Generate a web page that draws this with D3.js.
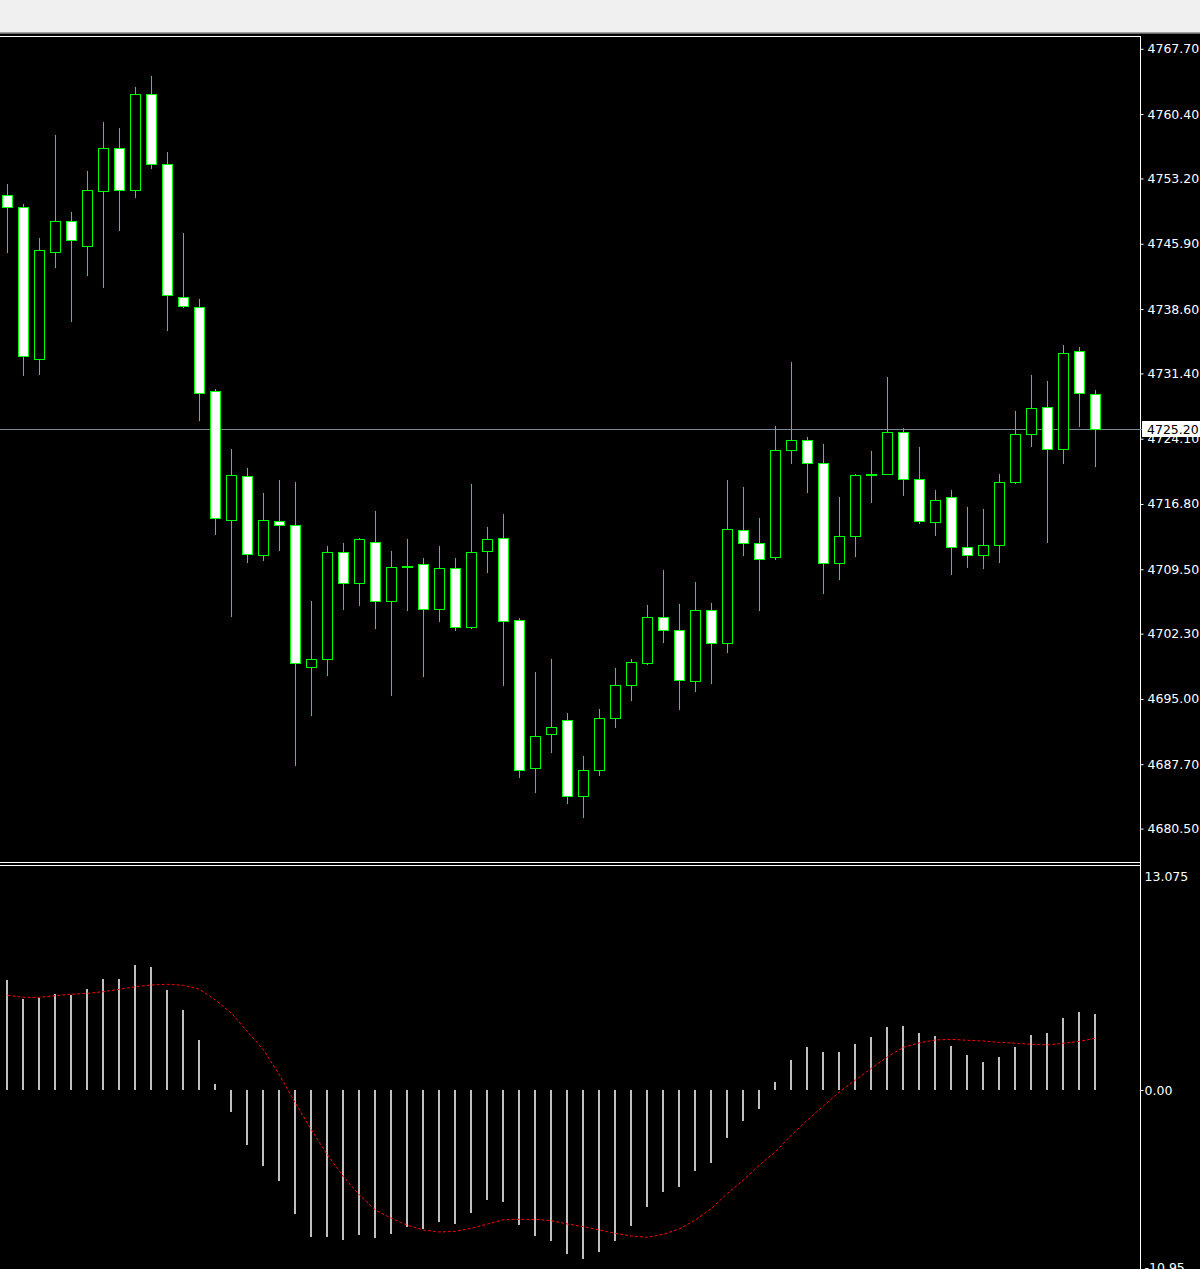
<!DOCTYPE html>
<html>
<head>
<meta charset="utf-8">
<title>Candles with MACD</title>
<script src="https://cdn.jsdelivr.net/npm/d3@7"></script>
<style>
  html, body { margin: 0; padding: 0; background: #000; }
  svg { display: block; }
</style>
</head>
<body>
<svg id="chart" width="1200" height="1269"></svg>
<script>
// OHLC, one entry per bar, oldest first
const opens = [
    4751.4, 4750.0, 4733.0, 4745.0, 4748.4, 4745.7, 4751.8, 4756.6, 4751.9, 4762.7,
    4754.8, 4740.0, 4738.8, 4729.4, 4715.0, 4719.9, 4711.1, 4714.9, 4714.5, 4698.6,
    4699.5, 4711.4, 4708.0, 4712.6, 4705.9, 4709.9, 4710.1, 4705.1, 4709.6, 4703.0,
    4711.5, 4713.0, 4703.8, 4687.3, 4691.1, 4692.6, 4684.2, 4687.1, 4692.9, 4696.6,
    4699.0, 4704.2, 4702.7, 4697.0, 4705.0, 4701.2, 4713.9, 4712.4, 4710.9, 4722.8,
    4723.9, 4721.4, 4710.2, 4713.2, 4720.0, 4720.2, 4724.9, 4719.6, 4714.8, 4717.6,
    4712.0, 4711.1, 4712.2, 4719.3, 4724.6, 4727.7, 4722.9, 4733.9, 4729.1
];
const highs = [
    4752.6, 4750.3, 4746.5, 4758.1, 4749.4, 4754.0, 4759.5, 4758.8, 4763.4, 4764.7,
    4756.2, 4747.1, 4739.7, 4729.7, 4723.0, 4720.8, 4718.0, 4719.5, 4719.3, 4706.0,
    4712.1, 4712.4, 4713.0, 4716.0, 4711.5, 4712.9, 4710.8, 4712.1, 4710.8, 4719.0,
    4714.2, 4715.7, 4704.0, 4698.0, 4699.5, 4693.4, 4688.6, 4693.9, 4698.5, 4699.5,
    4705.5, 4709.4, 4705.6, 4708.1, 4705.7, 4719.5, 4718.7, 4715.2, 4725.5, 4732.7,
    4724.3, 4723.5, 4717.6, 4720.2, 4722.7, 4731.0, 4725.3, 4723.2, 4718.4, 4718.4,
    4716.5, 4716.2, 4720.1, 4727.2, 4731.2, 4730.5, 4734.6, 4734.4, 4729.5
];
const lows = [
    4745.0, 4731.2, 4731.3, 4743.3, 4737.3, 4742.4, 4741.1, 4747.4, 4751.1, 4754.4,
    4736.3, 4738.8, 4726.2, 4713.4, 4704.3, 4710.3, 4710.5, 4711.7, 4687.6, 4693.2,
    4697.7, 4705.1, 4705.5, 4702.9, 4695.4, 4705.0, 4697.6, 4703.7, 4702.7, 4702.9,
    4709.2, 4696.6, 4686.3, 4684.6, 4689.1, 4683.4, 4681.8, 4686.5, 4691.9, 4694.9,
    4698.9, 4701.4, 4693.9, 4695.9, 4696.8, 4700.3, 4711.1, 4705.0, 4710.7, 4721.4,
    4718.1, 4706.9, 4708.4, 4711.0, 4717.0, 4720.1, 4717.8, 4714.7, 4713.3, 4709.0,
    4709.8, 4709.6, 4710.3, 4719.2, 4723.3, 4712.5, 4721.4, 4725.5, 4721.1
];
const closes = [
    4750.0, 4733.3, 4745.2, 4748.4, 4746.3, 4751.9, 4756.6, 4751.9, 4762.7, 4754.8,
    4740.2, 4738.9, 4729.2, 4715.2, 4720.0, 4711.2, 4715.0, 4714.4, 4699.0, 4699.5,
    4711.4, 4708.0, 4712.9, 4706.0, 4709.7, 4709.8, 4705.1, 4709.6, 4703.0, 4711.4,
    4712.9, 4703.7, 4687.0, 4690.9, 4691.9, 4684.2, 4687.0, 4692.9, 4696.6, 4699.1,
    4704.2, 4702.7, 4697.1, 4705.0, 4701.2, 4714.0, 4712.4, 4710.7, 4722.8, 4723.9,
    4721.4, 4710.2, 4713.2, 4720.0, 4720.2, 4724.9, 4719.6, 4714.9, 4717.3, 4712.0,
    4711.1, 4712.2, 4719.3, 4724.6, 4727.5, 4722.9, 4733.7, 4729.2, 4725.2
];

// MACD main (histogram) and signal line
const macdHist = [
    6.42, 5.31, 5.39, 5.60, 5.55, 5.90, 6.48, 6.48, 7.30, 7.18,
    5.84, 4.67, 2.92, 0.35, -1.28, -3.21, -4.44, -5.31, -7.24, -8.58,
    -8.58, -8.76, -8.46, -8.64, -8.41, -8.00, -8.11, -7.71, -7.82, -7.18,
    -6.42, -6.54, -7.88, -8.52, -8.81, -9.57, -9.87, -9.46, -8.81, -7.94,
    -6.83, -5.95, -5.66, -4.73, -4.26, -2.80, -1.81, -1.11, 0.47, 1.75,
    2.51, 2.22, 2.22, 2.69, 3.09, 3.68, 3.74, 3.33, 3.15, 2.57,
    2.04, 1.63, 1.93, 2.51, 3.21, 3.33, 4.20, 4.55, 4.44
];
const macdSignal = [
    5.53, 5.41, 5.41, 5.51, 5.59, 5.64, 5.74, 5.88, 6.03, 6.13,
    6.17, 6.11, 5.88, 5.25, 4.48, 3.40, 2.34, 0.88, -0.78, -2.34,
    -3.79, -5.06, -6.13, -7.01, -7.49, -7.90, -8.17, -8.29, -8.25, -8.07,
    -7.82, -7.57, -7.55, -7.55, -7.63, -7.82, -7.98, -8.17, -8.37, -8.52,
    -8.60, -8.42, -8.10, -7.59, -6.91, -6.03, -5.25, -4.38, -3.60, -2.63,
    -1.75, -0.93, -0.10, 0.58, 1.27, 1.94, 2.49, 2.76, 2.92, 2.96,
    2.90, 2.86, 2.78, 2.73, 2.67, 2.63, 2.73, 2.84, 3.02
];

const priceTicks = [
    '4767.70', '4760.40', '4753.20', '4745.90', '4738.60', '4731.40', '4724.10',
    '4716.80', '4709.50', '4702.30', '4695.00', '4687.70', '4680.50'
];
const macdTicks = ['13.075', '0.00', '-10.95'];

class TerminalChart {
    constructor() {
        this.svg = d3.select('#chart');
        this.width = 1200;
        this.height = 1269;
        this.plotRight = 1140;
        this.font = "'DejaVu Sans', sans-serif";

        const n = closes.length;
        this.x = d3.scaleLinear().domain([0, n - 1]).range([7.5, 7.5 + 16 * (n - 1)]);
        this.y = d3.scaleLinear()
            .domain([+priceTicks[priceTicks.length - 1], +priceTicks[0]])
            .range([828.6, 48.8]);
        this.yMacd = d3.scaleLinear()
            .domain([+macdTicks[2], +macdTicks[0]])
            .range([1277.6, 866]);

        this.drawFrame();
        this.drawCandles();
        this.drawMacd();
        this.drawAxes();
    }

    drawFrame() {
        // window toolbar strip on top
        this.svg.append('rect').attr('width', this.width).attr('height', 32).attr('fill', '#f0f0f0');
        this.svg.append('rect').attr('y', 32).attr('width', this.width).attr('height', 1).attr('fill', '#a0a0a0');
        this.svg.append('rect').attr('y', 33).attr('width', this.width).attr('height', 1).attr('fill', '#696969');
        this.svg.append('rect').attr('y', 34).attr('width', this.width).attr('height', this.height - 34).attr('fill', '#000');

        const border = this.svg.append('g').attr('stroke', '#fff').attr('stroke-width', 1);
        border.append('line').attr('x1', 0).attr('x2', this.plotRight + 0.5).attr('y1', 36.5).attr('y2', 36.5);
        border.append('line').attr('x1', 0).attr('x2', this.plotRight + 0.5).attr('y1', 862.5).attr('y2', 862.5);
        border.append('line').attr('x1', 0).attr('x2', this.plotRight + 0.5).attr('y1', 865.5).attr('y2', 865.5);
        border.append('line')
            .attr('x1', this.plotRight + 0.5).attr('x2', this.plotRight + 0.5)
            .attr('y1', 36).attr('y2', this.height);
    }

    drawCandles() {
        const snap = v => Math.round(v) + 0.5;
        const bars = d3.range(closes.length).map(i => ({
            i, open: opens[i], high: highs[i], low: lows[i], close: closes[i]
        }));

        // last price line with its tag
        const yLast = snap(this.y(closes[closes.length - 1]));
        this.svg.append('line')
            .attr('x1', 0).attr('x2', this.plotRight + 2)
            .attr('y1', yLast).attr('y2', yLast)
            .attr('stroke', '#778899').attr('stroke-width', 1);

        const g = this.svg.append('g').attr('class', 'candles');
        const candle = g.selectAll('.candle')
            .data(bars)
            .enter()
            .append('g')
            .attr('class', 'candle');

        candle.append('line')
            .attr('x1', d => this.x(d.i)).attr('x2', d => this.x(d.i))
            .attr('y1', d => Math.round(this.y(d.high)))
            .attr('y2', d => Math.round(this.y(d.low)) + 1)
            .attr('stroke', '#00ff00')
            .attr('stroke-width', 1);

        candle.append('rect')
            .attr('x', d => this.x(d.i) - 5)
            .attr('y', d => snap(this.y(Math.max(d.open, d.close))))
            .attr('width', 10)
            .attr('height', d => Math.max(1, snap(this.y(Math.min(d.open, d.close))) - snap(this.y(Math.max(d.open, d.close)))))
            .attr('fill', d => d.close > d.open ? '#000' : '#fff')
            .attr('stroke', '#00ff00')
            .attr('stroke-width', 1);
    }

    drawMacd() {
        const zero = Math.round(this.yMacd(0));
        const g = this.svg.append('g').attr('class', 'macd');

        g.selectAll('.hist')
            .data(macdHist)
            .enter()
            .append('rect')
            .attr('class', 'hist')
            .attr('x', (d, i) => Math.floor(this.x(i)) - 1)
            .attr('y', d => d >= 0 ? Math.round(this.yMacd(d)) : zero)
            .attr('width', 2)
            .attr('height', d => Math.abs(Math.round(this.yMacd(d)) - zero))
            .attr('fill', '#c0c0c0');

        const line = d3.line()
            .x((d, i) => this.x(i))
            .y(d => this.yMacd(d));

        g.append('path')
            .datum(macdSignal)
            .attr('d', line)
            .attr('fill', 'none')
            .attr('stroke', '#ff0000')
            .attr('stroke-width', 1)
            .attr('stroke-dasharray', '3,2');
    }

    drawAxes() {
        const priceAxis = d3.axisRight(this.y)
            .tickValues(priceTicks.map(Number))
            .tickFormat(d3.format('.2f'))
            .tickSize(3)
            .tickSizeOuter(0)
            .tickPadding(4);

        const pa = this.svg.append('g')
            .attr('transform', `translate(${this.plotRight + 0.5},0)`)
            .call(priceAxis);
        this.styleAxis(pa);

        // price tag over the axis
        const last = closes[closes.length - 1];
        const yLast = Math.round(this.y(last)) + 0.5;
        this.svg.append('rect')
            .attr('x', this.plotRight + 2).attr('y', yLast - 8.5)
            .attr('width', this.width - this.plotRight - 2).attr('height', 16)
            .attr('fill', '#fff');
        this.svg.append('text')
            .attr('x', this.plotRight + 7).attr('y', yLast)
            .attr('dy', '0.36em')
            .attr('font-family', this.font).attr('font-size', '12.5px')
            .attr('fill', '#000')
            .text(d3.format('.2f')(last));

        const macdAxis = d3.axisRight(this.yMacd)
            .tickValues(macdTicks.map(Number))
            .tickFormat((d, i) => macdTicks[i])
            .tickSize(3)
            .tickSizeOuter(0)
            .tickPadding(1);

        const ma = this.svg.append('g')
            .attr('transform', `translate(${this.plotRight + 0.5},0)`)
            .call(macdAxis);
        this.styleAxis(ma);

        // the scale extremes sit inside the window, with no tick mark
        ma.selectAll('.tick').filter(d => d !== 0).select('line').remove();
        ma.selectAll('.tick').filter(d => d === +macdTicks[0]).select('text').attr('dy', '0.72em').attr('y', 5);
        ma.selectAll('.tick').filter(d => d === +macdTicks[2]).select('text').attr('dy', '0').attr('y', -6);
    }

    styleAxis(g) {
        g.select('.domain').remove();
        g.attr('font-family', this.font).attr('font-size', '12.5px');
        g.selectAll('.tick line').attr('stroke', '#fff');
        g.selectAll('.tick text').attr('fill', '#fff');
    }
}

document.addEventListener('DOMContentLoaded', () => {
    new TerminalChart();
});
</script>
</body>
</html>
